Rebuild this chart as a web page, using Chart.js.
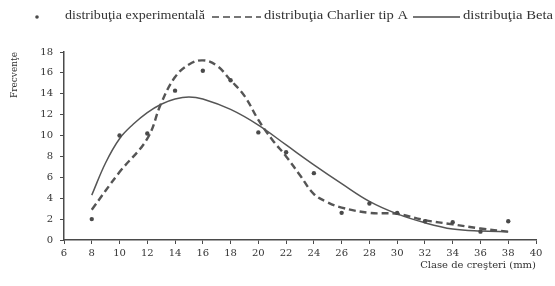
<!DOCTYPE html>
<html>
<head>
<meta charset="utf-8">
<script src="https://cdn.jsdelivr.net/npm/chart.js@4/dist/chart.umd.min.js"></script>
<style>
html,body{margin:0;padding:0;background:#fff;}
#wrap{width:555px;height:286px;}
</style>
</head>
<body>
<div id="wrap"><canvas id="c" width="555" height="286"></canvas></div>
<script>
// ---- data ----
const expX = [8,10,12,14,16,18,20,22,24,26,28,30,32,34,36,38];
const expY = [2.0,10.0,10.2,14.3,16.2,15.3,10.3,8.4,6.4,2.6,3.5,2.6,1.8,1.7,0.8,1.8];

const charlierX = [8,10,12,13,14,15,16,17,18,19,20,21,22,23,24,25,26,28,30,32,34,36,38];
const charlierY = [2.9,6.5,9.7,13.1,15.6,16.8,17.2,16.7,15.3,13.8,11.5,9.6,8.0,6.2,4.4,3.6,3.1,2.6,2.5,1.9,1.5,1.1,0.8];

const betaX = [8,9,10,11,12,13,14,15,16,18,20,22,24,26,28,30,32,34,36,38];
const betaY = [4.3,7.4,9.7,11.1,12.2,13.0,13.5,13.7,13.5,12.5,11.0,9.1,7.2,5.4,3.7,2.5,1.65,1.05,0.85,0.8];

const xTicks = [6,8,10,12,14,16,18,20,22,24,26,28,30,32,34,36,38,40];
const yTicks = [0,2,4,6,8,10,12,14,16,18];

const legendLabels = ['distribuţia experimentală','distribuţia Charlier tip A','distribuţia Beta'];
const xTitle = 'Clase de creşteri (mm)';
const yTitle = 'Frecvenţe';

const pts = (xs, ys) => xs.map((x, i) => ({x: x, y: ys[i]}));

const INK = '#4a4a4a';
const FONT = 'DejaVu Serif';
const LFONT = 'Liberation Serif';

function fitText(ctx, text, x, y, w) {
  const m = ctx.measureText(text).width;
  ctx.save();
  ctx.translate(x, y);
  ctx.scale(w / m, 1);
  ctx.fillText(text, 0, 0);
  ctx.restore();
}

const legendPlugin = {
  id: 'customLegend',
  afterDraw(chart) {
    const ctx = chart.ctx;
    const y = 16;
    ctx.save();
    ctx.strokeStyle = INK;
    ctx.font = '12px "' + LFONT + '"';
    ctx.textBaseline = 'middle';
    ctx.textAlign = 'left';
    // item 1: dot
    ctx.beginPath();
    ctx.arc(37, y + 1, 1.8, 0, Math.PI * 2);
    ctx.fillStyle = INK;
    ctx.fill();
    ctx.fillStyle = '#333';
    fitText(ctx, legendLabels[0], 65, y, 140);
    // item 2: dashed
    ctx.lineWidth = 1.6;
    ctx.setLineDash([7, 4]);
    ctx.beginPath();
    ctx.moveTo(212, y + 1);
    ctx.lineTo(261, y + 1);
    ctx.stroke();
    ctx.setLineDash([]);
    fitText(ctx, legendLabels[1], 264, y, 144);
    // item 3: solid
    ctx.lineWidth = 1.3;
    ctx.beginPath();
    ctx.moveTo(413, y + 1);
    ctx.lineTo(460, y + 1);
    ctx.stroke();
    fitText(ctx, legendLabels[2], 463, y, 90);
    ctx.restore();
  }
};

new Chart(document.getElementById('c'), {
  type: 'line',
  data: {
    datasets: [
      {
        label: legendLabels[0],
        data: pts(expX, expY),
        showLine: false,
        pointRadius: 2.2,
        pointBackgroundColor: INK,
        pointBorderColor: INK,
        pointBorderWidth: 0,
        order: 0
      },
      {
        label: legendLabels[1],
        data: pts(charlierX, charlierY),
        borderColor: '#555',
        borderWidth: 2.4,
        borderDash: [7, 4],
        pointRadius: 0,
        tension: 0.4,
        fill: false,
        order: 1
      },
      {
        label: legendLabels[2],
        data: pts(betaX, betaY),
        borderColor: '#555',
        borderWidth: 1.5,
        pointRadius: 0,
        tension: 0.4,
        fill: false,
        order: 2
      }
    ]
  },
  options: {
    responsive: false,
    animation: false,
    layout: { padding: { top: 52, right: 19, bottom: 0, left: 0 } },
    plugins: {
      legend: { display: false },
      tooltip: { enabled: false }
    },
    scales: {
      x: {
        type: 'linear',
        min: 6,
        max: 40,
        afterFit(scale) { scale.height = 46; },
        afterBuildTicks(scale) { scale.ticks = xTicks.map(v => ({value: v})); },
        ticks: {
          color: '#333',
          font: { family: FONT, size: 10 },
          padding: 3,
          maxRotation: 0,
          autoSkip: false
        },
        grid: { drawOnChartArea: false, drawTicks: true, tickLength: 4, color: INK, lineWidth: 1 },
        border: { display: true, color: INK, width: 1.5 },
        title: {
          display: true,
          text: xTitle,
          align: 'end',
          color: '#333',
          font: { family: FONT, size: 10 },
          padding: { top: 0, bottom: 15 }
        }
      },
      y: {
        min: 0,
        max: 18,
        afterFit(scale) { scale.width = 64; },
        afterBuildTicks(scale) { scale.ticks = yTicks.map(v => ({value: v})); },
        ticks: {
          color: '#333',
          font: { family: FONT, size: 10 },
          padding: 7
        },
        grid: { drawOnChartArea: false, drawTicks: true, tickLength: 4, color: INK, lineWidth: 1 },
        border: { display: true, color: INK, width: 1.5 },
        title: {
          display: true,
          text: yTitle,
          align: 'end',
          color: '#333',
          font: { family: FONT, size: 9 },
          padding: { top: 9, bottom: 0 }
        }
      }
    }
  },
  plugins: [legendPlugin]
});
</script>
</body>
</html>
